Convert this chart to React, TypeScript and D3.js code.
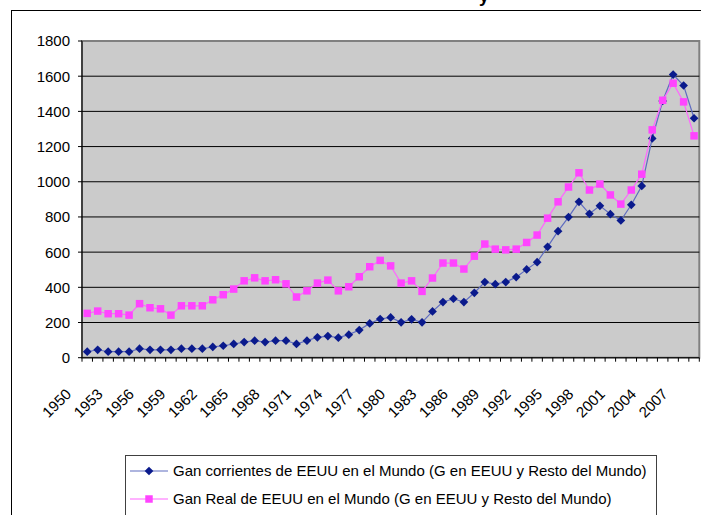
import React from 'react';
import * as d3 from 'd3';

const years = [
  '1950', '1951', '1952', '1953', '1954', '1955', '1956', '1957', '1958', '1959',
  '1960', '1961', '1962', '1963', '1964', '1965', '1966', '1967', '1968', '1969',
  '1970', '1971', '1972', '1973', '1974', '1975', '1976', '1977', '1978', '1979',
  '1980', '1981', '1982', '1983', '1984', '1985', '1986', '1987', '1988', '1989',
  '1990', '1991', '1992', '1993', '1994', '1995', '1996', '1997', '1998', '1999',
  '2000', '2001', '2002', '2003', '2004', '2005', '2006', '2007', '2008',
];

const tickLabels = [
  '1950', '1953', '1956', '1959', '1962', '1965', '1968', '1971', '1974', '1977',
  '1980', '1983', '1986', '1989', '1992', '1995', '1998', '2001', '2004', '2007',
];

const yTicks = [0, 200, 400, 600, 800, 1000, 1200, 1400, 1600, 1800];

// Gan corrientes
const corrientes = [
  34, 45, 34, 34, 34, 51, 45, 45, 45, 51,
  51, 51, 61, 68, 78, 89, 97, 89, 97, 97,
  78, 97, 116, 123, 114, 131, 157, 195, 220, 229,
  201, 218, 201, 263, 316, 335, 316, 369, 430, 418,
  430, 458, 502, 543, 630, 719, 799, 886, 818, 863,
  816, 780, 869, 976, 1246, 1459, 1609, 1547, 1361,
];

// Gan real
const real = [
  252, 265, 250, 250, 242, 307, 284, 278, 242, 295,
  295, 295, 329, 358, 390, 437, 454, 437, 443, 420,
  345, 380, 424, 441, 380, 403, 460, 517, 553, 522,
  424, 437, 377, 453, 538, 538, 504, 577, 646, 617,
  613, 617, 655, 697, 793, 886, 970, 1051, 953, 987,
  925, 873, 953, 1043, 1295, 1463, 1560, 1454, 1261,
];

const legendItems = [
  'Gan corrientes de EEUU en el Mundo (G en EEUU y Resto del Mundo)',
  'Gan Real de EEUU en el Mundo (G en EEUU y Resto del Mundo)',
];

const W = 701;
const H = 515;
const plot = { left: 82, right: 699.3, top: 41, bottom: 357.7 };
const font = '"Liberation Sans", Arial, sans-serif';

const blueLine = '#5f6cc0';
const blueMark = '#0a1a8c';
const pinkLine = '#ff66ff';
const pinkMark = '#ff44ff';

export default function App() {
  const x = d3.scaleBand().domain(years).range([plot.left, plot.right]);
  const y = d3.scaleLinear().domain([0, 1800]).range([plot.bottom, plot.top]);
  const cx = (i: number) => (x(years[i]) as number) + x.bandwidth() / 2;

  const line = d3.line<number>().x((_, i) => cx(i)).y(d => y(d));
  const diamond = d3.symbol(d3.symbolSquare, 38)();
  const square = d3.symbol(d3.symbolSquare, 56)();

  const boundaries = years.map(yr => x(yr) as number).concat([plot.right]);

  return (
    <svg width={W} height={H} style={{ position: 'absolute', left: 0, top: 0, background: '#fff' }}
      fontFamily={font}>
      {/* clipped title */}
      <text x={484} y={2} fontSize={18} fontWeight="bold" textAnchor="middle">y</text>

      {/* chart frame */}
      <line x1={11} y1={10.5} x2={W} y2={10.5} stroke="#000" />
      <line x1={11.5} y1={10} x2={11.5} y2={H} stroke="#000" />

      {/* plot area */}
      <rect x={plot.left} y={plot.top} width={plot.right - plot.left} height={plot.bottom - plot.top}
        fill="#cbcbcb" stroke="#808080" strokeWidth={2} />

      {yTicks.slice(1, -1).map(t => (
        <line key={t} x1={plot.left} x2={plot.right} y1={y(t)} y2={y(t)} stroke="#000" strokeWidth={1} />
      ))}

      {/* y axis */}
      <line x1={plot.left} x2={plot.left} y1={plot.top} y2={plot.bottom} stroke="#000" />
      {yTicks.map(t => (
        <g key={t}>
          <line x1={plot.left - 4} x2={plot.left} y1={y(t)} y2={y(t)} stroke="#000" />
          <text x={70} y={y(t)} dy="0.36em" fontSize={15} textAnchor="end">{t}</text>
        </g>
      ))}

      {/* x axis */}
      <line x1={plot.left} x2={plot.right} y1={plot.bottom} y2={plot.bottom} stroke="#000" />
      {boundaries.map((b, i) => (
        <line key={i} x1={b} x2={b} y1={plot.bottom} y2={plot.bottom + 4} stroke="#000" />
      ))}
      {tickLabels.map(lbl => {
        const px = (x(lbl) as number) + x.bandwidth() / 2 - 15;
        const py = 395;
        return (
          <text key={lbl} x={px} y={py} fontSize={15} textAnchor="end"
            transform={`rotate(-45,${px},${py})`}>{lbl}</text>
        );
      })}

      {/* series */}
      <path d={line(corrientes) || ''} fill="none" stroke={blueLine} strokeWidth={1.2} />
      {corrientes.map((v, i) => (
        <path key={i} d={diamond || ''} fill={blueMark}
          transform={`translate(${cx(i)},${y(v)}) rotate(45)`} />
      ))}
      <path d={line(real) || ''} fill="none" stroke={pinkLine} strokeWidth={1.2} />
      {real.map((v, i) => (
        <path key={i} d={square || ''} fill={pinkMark} transform={`translate(${cx(i)},${y(v)})`} />
      ))}

      {/* legend */}
      <rect x={125.5} y={455.5} width={531} height={80} fill="#fff" stroke="#404040" />
      {legendItems.map((txt, i) => {
        const ly = 471 + i * 28;
        return (
          <g key={txt}>
            <line x1={130} x2={168} y1={ly} y2={ly} stroke={i === 0 ? blueLine : pinkLine} strokeWidth={1.2} />
            {i === 0 ? (
              <path d={diamond || ''} fill={blueMark} transform={`translate(149,${ly}) rotate(45)`} />
            ) : (
              <path d={square || ''} fill={pinkMark} transform={`translate(149,${ly})`} />
            )}
            <text x={173} y={ly} dy="0.36em" fontSize={15}>{txt}</text>
          </g>
        );
      })}
    </svg>
  );
}
